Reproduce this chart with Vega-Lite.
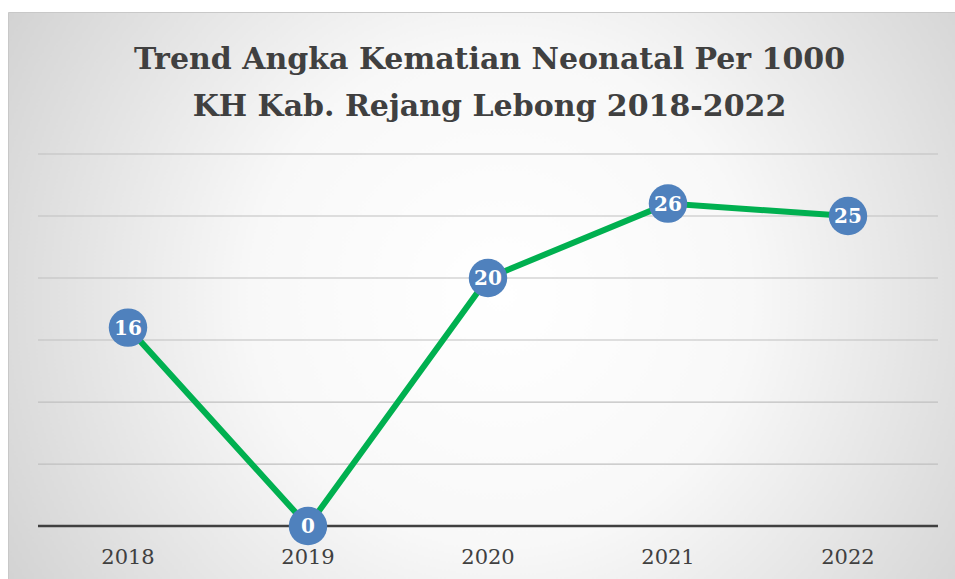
{
  "$schema": "https://vega.github.io/schema/vega-lite/v6.json",
  "width": 947,
  "height": 567,
  "padding": {"left": 8, "top": 12, "right": 0, "bottom": 0},
  "autosize": {"type": "none"},
  "background": "white",
  "config": {
    "view": {
      "fill": {"gradient": "radial", "x1": 0.52, "y1": 0.5, "r1": 0, "x2": 0.52, "y2": 0.5, "r2": 0.75,
        "stops": [{"offset": 0, "color": "#ffffff"}, {"offset": 0.35, "color": "#f8f8f8"}, {"offset": 1, "color": "#c2c2c2"}]},
      "stroke": "#c8c8c8"
    }
  },
  "title": {
    "text": ["Trend Angka Kematian Neonatal Per 1000", "KH Kab. Rejang Lebong 2018-2022"],
    "anchor": "middle",
    "frame": "group",
    "orient": "top",
    "baseline": "top",
    "offset": -110,
    "dx": 8,
    "font": "DejaVu Serif",
    "fontSize": 30,
    "fontWeight": "bold",
    "color": "#404040",
    "lineHeight": 47
  },
  "datasets": {
    "series": [
      {"year": "2018", "value": 16},
      {"year": "2019", "value": 0},
      {"year": "2020", "value": 20},
      {"year": "2021", "value": 26},
      {"year": "2022", "value": 25}
    ],
    "grid": [
      {"g": 5}, {"g": 10}, {"g": 15}, {"g": 20}, {"g": 25}, {"g": 30}
    ],
    "base": [{"g": 0}]
  },
  "layer": [
    {
      "data": {"name": "grid"},
      "mark": {"type": "rule", "color": "#bfbfbf", "strokeWidth": 1.2},
      "encoding": {
        "x": {"datum": "2018", "type": "nominal", "bandPosition": 0},
        "x2": {"datum": "2022", "bandPosition": 1},
        "y": {"field": "g", "type": "quantitative"}
      }
    },
    {
      "data": {"name": "base"},
      "mark": {"type": "rule", "color": "#404040", "strokeWidth": 2.5},
      "encoding": {
        "x": {"datum": "2018", "type": "nominal", "bandPosition": 0},
        "x2": {"datum": "2022", "bandPosition": 1},
        "y": {"field": "g", "type": "quantitative"}
      }
    },
    {
      "data": {"name": "series"},
      "mark": {"type": "line", "color": "#00b050", "strokeWidth": 6},
      "encoding": {
        "x": {"field": "year", "type": "nominal"},
        "y": {"field": "value", "type": "quantitative"}
      }
    },
    {
      "data": {"name": "series"},
      "mark": {"type": "point", "filled": true, "color": "#4f81bd", "opacity": 1, "size": 1480, "shape": "circle"},
      "encoding": {
        "x": {"field": "year", "type": "nominal"},
        "y": {"field": "value", "type": "quantitative"}
      }
    },
    {
      "data": {"name": "series"},
      "mark": {"type": "text", "color": "white", "font": "DejaVu Serif", "fontWeight": "bold", "fontSize": 20, "baseline": "middle", "align": "center", "dy": 1},
      "encoding": {
        "x": {"field": "year", "type": "nominal"},
        "y": {"field": "value", "type": "quantitative"},
        "text": {"field": "value", "type": "quantitative"}
      }
    }
  ],
  "encoding": {
    "x": {
      "scale": {"type": "band", "domain": ["2018", "2019", "2020", "2021", "2022"], "paddingInner": 0, "paddingOuter": 0.1306, "align": 0.638},
      "axis": {"title": null, "domain": false, "ticks": false, "grid": false, "labelAngle": 0, "offset": -53, "labelPadding": 20,
        "labelFont": "DejaVu Serif", "labelFontSize": 21, "labelColor": "#404040", "labelFontWeight": "normal"}
    },
    "y": {
      "scale": {"domain": [-4.27, 41.45], "nice": false, "zero": false},
      "axis": null
    }
  }
}
